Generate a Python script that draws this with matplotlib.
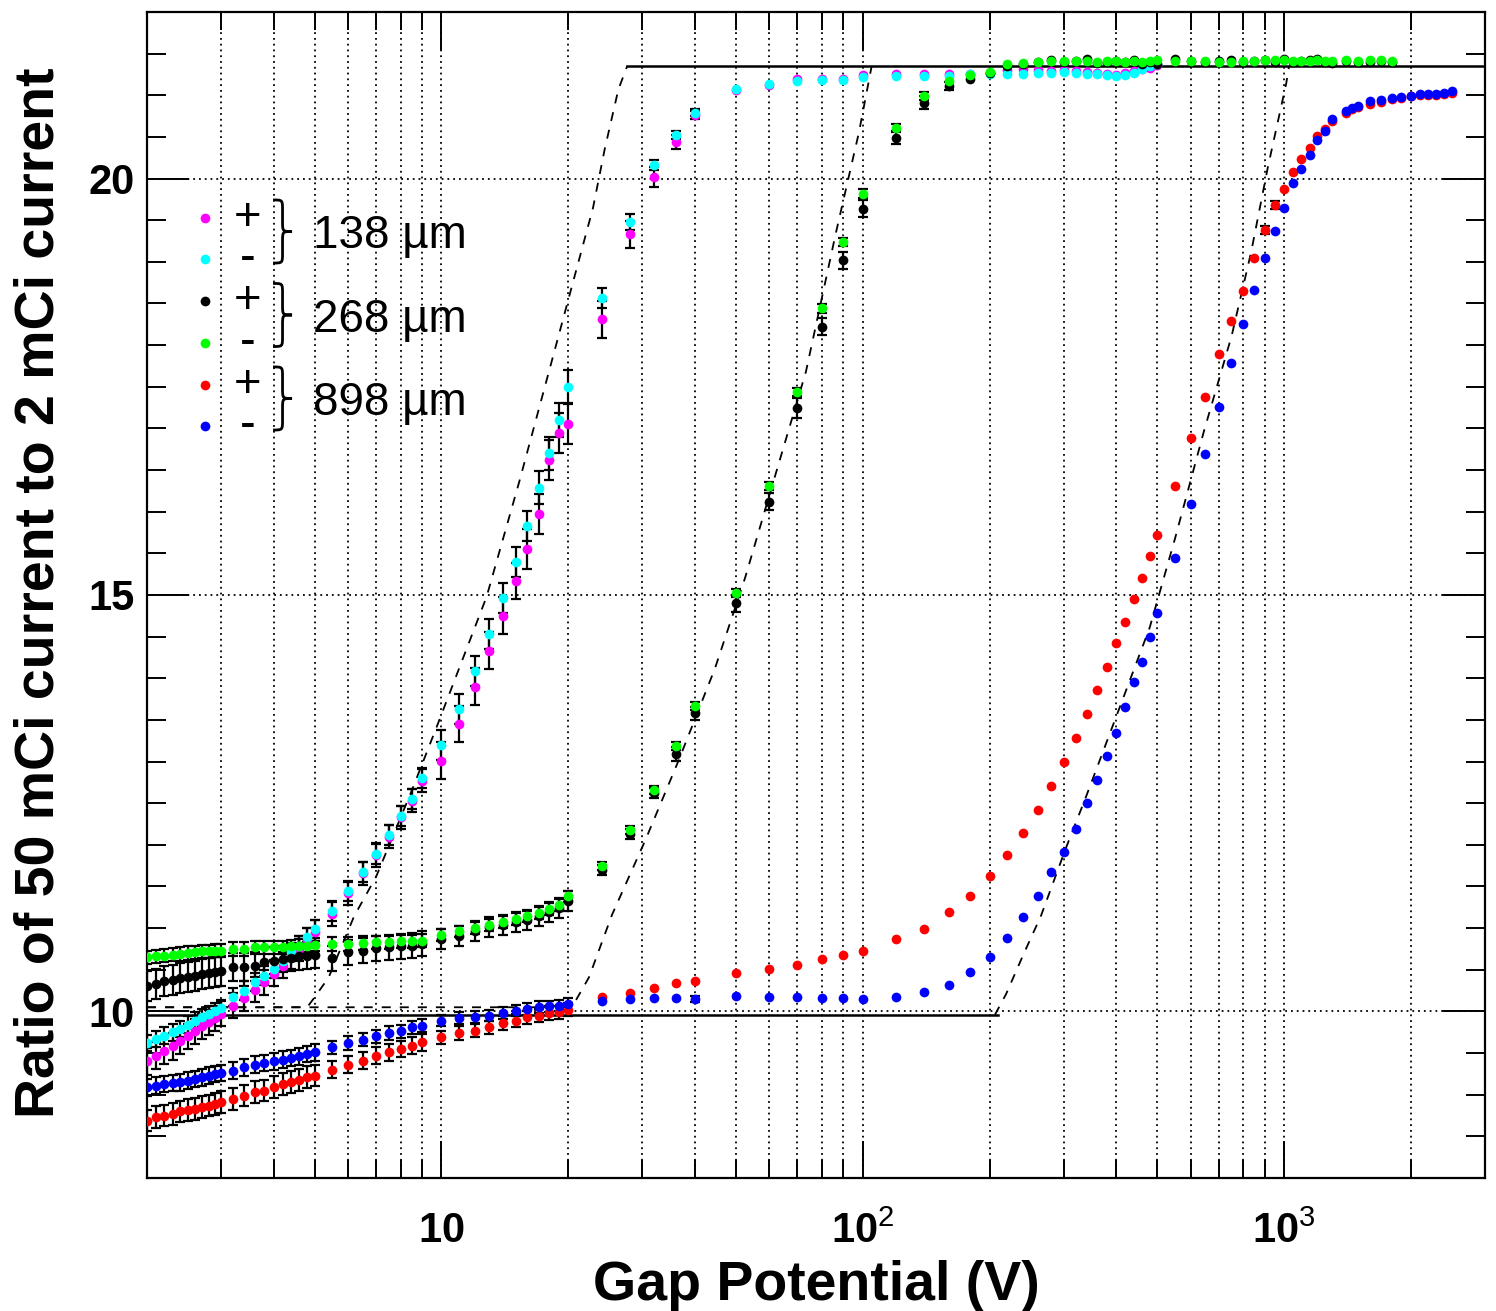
import matplotlib
matplotlib.use('Agg')
import matplotlib.pyplot as plt
import numpy as np
from matplotlib.path import Path
from matplotlib.patches import PathPatch
from matplotlib.ticker import FixedLocator, MultipleLocator, NullFormatter

plt.rcParams['font.family'] = ['Liberation Sans', 'DejaVu Sans']
plt.rcParams['mathtext.fontset'] = 'custom'
plt.rcParams['mathtext.rm'] = 'Liberation Sans'
plt.rcParams['mathtext.bf'] = 'Liberation Sans:bold'

# ---- gap potentials (V) ----
v_low = [2.0, 2.1, 2.2, 2.3, 2.4, 2.5, 2.6, 2.7, 2.8, 2.9, 3.0,
         3.2, 3.4, 3.6, 3.8, 4.0, 4.2, 4.4, 4.6, 4.8, 5.0]
v_mid = [5.5, 6, 6.5, 7, 7.5, 8, 8.5, 9,
         10, 11, 12, 13, 14, 15, 16, 17, 18, 19, 20]
v_high = [24, 28, 32, 36, 40, 50, 60, 70, 80, 90, 100]
v_kv = [120, 140, 160, 180, 200, 220, 240, 260, 280, 300,
        320, 340, 360, 380, 400, 420, 440, 460, 480, 500]
v_top = [550, 600, 650, 700, 750, 800, 850, 900, 950, 1000]
v_end_268 = [1050, 1100, 1150, 1200, 1250, 1300, 1400, 1500, 1600, 1700, 1800]
v_end_898 = [1050, 1100, 1150, 1200, 1250, 1300, 1400, 1450, 1500, 1600,
             1700, 1800, 1900, 2000, 2100, 2200, 2300, 2400, 2500]

volts_138 = v_low + v_mid + v_high + v_kv
volts_268 = volts_138 + v_top + v_end_268
volts_898 = volts_138 + v_top + v_end_898

# ---- ratio of 50 mCi current to 2 mCi current ----
r138_plus = [9.40, 9.47, 9.53, 9.58, 9.64, 9.70, 9.76, 9.82, 9.87, 9.92, 9.97,
             10.07, 10.16, 10.26, 10.35, 10.45, 10.55, 10.66, 10.75, 10.85, 10.95,
             11.17, 11.42, 11.66, 11.88, 12.10, 12.33, 12.53, 12.77,
             13.01, 13.45, 13.90, 14.33, 14.75, 15.17, 15.55, 15.97, 16.62, 16.95, 17.05,
             18.31, 19.33, 20.02, 20.44, 20.76, 21.06, 21.12, 21.19, 21.20, 21.19, 21.24,
             21.25, 21.25, 21.25, 21.26, 21.27, 21.30, 21.31, 21.30, 21.29, 21.30,
             21.29, 21.28, 21.27, 21.26, 21.24, 21.27, 21.29, 21.31, 21.33, 21.36]
r138_minus = [9.62, 9.67, 9.71, 9.75, 9.79, 9.84, 9.89, 9.93, 9.97, 10.00, 10.04,
              10.17, 10.25, 10.35, 10.43, 10.51, 10.60, 10.71, 10.79, 10.89, 10.99,
              11.20, 11.45, 11.68, 11.89, 12.12, 12.35, 12.55, 12.80,
              13.20, 13.63, 14.09, 14.53, 14.96, 15.40, 15.83, 16.29, 16.70, 17.10, 17.50,
              18.57, 19.48, 20.16, 20.52, 20.79, 21.07, 21.13, 21.17, 21.18, 21.18, 21.22,
              21.23, 21.23, 21.23, 21.25, 21.26, 21.25, 21.26, 21.27, 21.27, 21.28,
              21.27, 21.26, 21.25, 21.24, 21.23, 21.24, 21.27, 21.32, 21.35, 21.37]
r268_plus = [10.30, 10.33, 10.36, 10.38, 10.40, 10.41, 10.43, 10.45, 10.46, 10.47, 10.48,
             10.53, 10.53, 10.54, 10.59, 10.61, 10.63, 10.64, 10.66, 10.67, 10.68,
             10.64, 10.71, 10.73, 10.76, 10.77, 10.78, 10.79, 10.81,
             10.87, 10.91, 10.96, 11.01, 11.04, 11.07, 11.10, 11.14, 11.19, 11.24, 11.33,
             11.70, 12.13, 12.62, 13.09, 13.58, 14.90, 16.12, 17.24, 18.22, 19.02, 19.64,
             20.49, 20.91, 21.11, 21.19, 21.27, 21.35, 21.38, 21.40, 21.42, 21.40,
             21.41, 21.43, 21.39, 21.40, 21.41, 21.40, 21.42, 21.38, 21.40, 21.38,
             21.43, 21.41, 21.40, 21.41, 21.42, 21.40, 21.41, 21.42, 21.40, 21.43,
             21.40, 21.41, 21.42, 21.44, 21.40, 21.39, 21.41, 21.40, 21.40, 21.41, 21.40]
r268_minus = [10.65, 10.66, 10.67, 10.68, 10.69, 10.70, 10.71, 10.72, 10.72, 10.73, 10.73,
              10.75, 10.75, 10.77, 10.77, 10.77, 10.77, 10.78, 10.79, 10.79, 10.80,
              10.81, 10.81, 10.82, 10.83, 10.83, 10.84, 10.84, 10.85,
              10.92, 10.96, 11.00, 11.04, 11.07, 11.11, 11.14, 11.18, 11.23, 11.28, 11.38,
              11.75, 12.18, 12.66, 13.19, 13.67, 15.02, 16.31, 17.44, 18.44, 19.24, 19.82,
              20.61, 20.99, 21.17, 21.24, 21.28, 21.37, 21.39, 21.40, 21.41, 21.41,
              21.41, 21.41, 21.40, 21.41, 21.41, 21.40, 21.41, 21.40, 21.41, 21.42,
              21.41, 21.41, 21.41, 21.40, 21.40, 21.41, 21.41, 21.42, 21.42, 21.42,
              21.41, 21.41, 21.41, 21.42, 21.41, 21.41, 21.42, 21.41, 21.42, 21.42, 21.41]
r898_plus = [8.69, 8.73, 8.75, 8.77, 8.80, 8.82, 8.83, 8.85, 8.87, 8.89, 8.91,
             8.95, 8.99, 9.03, 9.05, 9.09, 9.13, 9.15, 9.18, 9.21, 9.23,
             9.30, 9.36, 9.41, 9.47, 9.51, 9.55, 9.59, 9.63,
             9.69, 9.74, 9.77, 9.81, 9.86, 9.89, 9.93, 9.95, 9.98, 9.99, 10.02,
             10.17, 10.22, 10.28, 10.34, 10.37, 10.46, 10.51, 10.56, 10.63, 10.68, 10.73,
             10.87, 10.99, 11.19, 11.39, 11.63, 11.88, 12.14, 12.42, 12.71, 12.99,
             13.28, 13.57, 13.86, 14.14, 14.42, 14.68, 14.95, 15.20, 15.47, 15.72,
             16.31, 16.88, 17.38, 17.89, 18.29, 18.65, 19.05, 19.38, 19.68, 19.88,
             20.08, 20.23, 20.37, 20.51, 20.59, 20.69, 20.79, 20.83, 20.86, 20.90,
             20.92, 20.95, 20.97, 20.99, 21.00, 21.00, 21.00, 21.01, 21.03]
r898_minus = [9.09, 9.11, 9.13, 9.14, 9.15, 9.17, 9.19, 9.21, 9.23, 9.25, 9.26,
              9.29, 9.33, 9.36, 9.38, 9.40, 9.42, 9.44, 9.46, 9.49, 9.51,
              9.57, 9.62, 9.66, 9.70, 9.74, 9.76, 9.81, 9.83,
              9.89, 9.92, 9.93, 9.95, 9.98, 10.01, 10.03, 10.05, 10.06, 10.07, 10.09,
              10.13, 10.15, 10.16, 10.16, 10.15, 10.19, 10.17, 10.17, 10.16, 10.16, 10.15,
              10.17, 10.23, 10.32, 10.47, 10.65, 10.88, 11.13, 11.39, 11.67, 11.92,
              12.19, 12.50, 12.78, 13.07, 13.34, 13.65, 13.95, 14.20, 14.49, 14.78,
              15.44, 16.09, 16.69, 17.26, 17.78, 18.25, 18.66, 19.05, 19.37, 19.65,
              19.95, 20.11, 20.28, 20.46, 20.57, 20.71, 20.81, 20.85, 20.87, 20.93,
              20.94, 20.97, 20.98, 20.99, 21.02, 21.02, 21.02, 21.03, 21.05]

# ---- error bars (0 = hidden behind marker) ----
e138_plus = ([0.16, 0.16, 0.16, 0.16, 0.15, 0.15, 0.15, 0.15, 0.15, 0.15, 0.15,
              0.15, 0.15, 0.15, 0.15, 0.15, 0.15, 0.15, 0.15, 0.15, 0.15,
              0.14, 0.14, 0.14, 0.14, 0.14, 0.14, 0.14, 0.14,
              0.22, 0.22, 0.22, 0.22, 0.22, 0.22, 0.24, 0.24, 0.24, 0.24, 0.24,
              0.22, 0.16, 0.12, 0.08, 0.05] + [0.0] * 26)
e138_minus = ([0.10, 0.10, 0.10, 0.10, 0.10, 0.10, 0.10, 0.10, 0.10, 0.10, 0.10,
               0.11, 0.11, 0.11, 0.11, 0.11, 0.11, 0.11, 0.11, 0.11, 0.11,
               0.12, 0.12, 0.12, 0.12, 0.12, 0.12, 0.12, 0.12,
               0.18, 0.18, 0.18, 0.18, 0.18, 0.18, 0.18, 0.20, 0.20, 0.20, 0.20,
               0.12, 0.10, 0.06, 0.05, 0.04] + [0.0] * 26)
e268_plus = ([0.18, 0.18, 0.18, 0.18, 0.18, 0.18, 0.18, 0.18, 0.18, 0.18, 0.18,
              0.17, 0.17, 0.17, 0.17, 0.16, 0.16, 0.16, 0.16, 0.16, 0.16,
              0.15, 0.15, 0.15, 0.15, 0.15, 0.15, 0.15, 0.15,
              0.12, 0.12, 0.12, 0.12, 0.12, 0.12, 0.12, 0.12, 0.12, 0.12, 0.12,
              0.06, 0.06, 0.06, 0.08, 0.08, 0.10, 0.10, 0.12, 0.10, 0.10, 0.10,
              0.08, 0.08, 0.05] + [0.0] * 38)
e268_minus = ([0.08] * 21 + [0.08] * 8 + [0.07] * 11 +
              [0.05, 0.05, 0.05, 0.05, 0.05, 0.05, 0.05, 0.05, 0.05, 0.05, 0.05,
               0.05, 0.05] + [0.0] * 39)
e898_plus = ([0.13] * 21 + [0.10] * 8 + [0.08] * 11 + [0.0] * 31 +
             [0.0, 0.0, 0.0, 0.0, 0.0, 0.0, 0.0, 0.05, 0.05, 0.0] + [0.0] * 19)
e898_minus = ([0.10] * 21 + [0.08] * 8 + [0.07] * 11 +
              [0.0, 0.0, 0.0, 0.0, 0.04] + [0.0] * 55)

# ---- model curves (dashed) and plateau levels ----
model_138_v = [2.0, 4.8, 5.0, 5.4, 6.2, 7.0, 8.5, 9.8, 12.8, 15.3, 18.3, 22.9, 24.4, 26.3, 27.6]
model_138_r = [10.05, 10.05, 10.17, 10.41, 11.14, 11.62, 12.65, 13.45, 14.98, 16.36,
               17.82, 19.65, 20.35, 21.07, 21.35]
model_268_v = [2.0, 20.4, 22.4, 25.4, 30.5, 36.6, 44.6, 52.6, 62.1, 73.3, 86.2, 98.0, 105.0]
model_268_r = [10.05, 10.05, 10.41, 11.16, 12.06, 13.02, 14.12, 15.21, 16.45, 17.68,
               19.33, 20.56, 21.35]
model_898_v = [206, 219, 240, 265, 303, 339, 408, 480, 552, 645, 751, 835, 915, 1012, 1028]
model_898_r = [9.96, 10.21, 10.67, 11.15, 11.95, 12.58, 13.66, 14.61, 15.69, 16.96,
               18.11, 19.11, 20.13, 21.14, 21.35]
low_level_v = [2.0, 210]
low_level = 9.96
high_level_v = [27.6, 3000]
high_level = 21.35

series = [
    (volts_138, r138_plus, e138_plus, '#ff00ff'),
    (volts_138, r138_minus, e138_minus, '#00ffff'),
    (volts_268, r268_plus, e268_plus, 'black'),
    (volts_268, r268_minus, e268_minus, '#00ff00'),
    (volts_898, r898_plus, e898_plus, '#ff0000'),
    (volts_898, r898_minus, e898_minus, '#0000ff'),
]

fig = plt.figure(figsize=(14.96, 13.11), dpi=100)
ax = fig.add_axes([0.09826, 0.10145, 0.89439, 0.88940])
ax.set_xscale('log')
ax.set_xlim(2, 3000)
ax.set_ylim(8, 22)

# model lines
ax.plot(low_level_v, [low_level, low_level], color='black', lw=1.8, zorder=2)
ax.plot(high_level_v, [high_level, high_level], color='black', lw=1.8, zorder=2)
for mv, mr in [(model_138_v, model_138_r), (model_268_v, model_268_r),
               (model_898_v, model_898_r)]:
    ax.plot(mv, mr, color='black', lw=1.3, dashes=(5, 5), zorder=2)

# data
for v, r, e, c in series:
    v = np.asarray(v, float)
    r = np.asarray(r, float)
    e = np.asarray(e, float)
    m = e > 0
    ax.errorbar(v[m], r[m], yerr=e[m], fmt='none', ecolor='black',
                elinewidth=1.6, capsize=3.5, capthick=1.6, zorder=3)
    ax.plot(v, r, 'o', color=c, ms=7, mew=0, zorder=4)

# axes styling
ax.set_xticks([10, 100, 1000],
              labels=[r'$\mathbf{10}$', r'$\mathbf{10}^{2}$', r'$\mathbf{10}^{3}$'],
              fontsize=30)
minor_x = [m * 10.0 ** d for d in range(0, 4) for m in range(2, 10)]
ax.xaxis.set_minor_locator(FixedLocator(minor_x))
ax.xaxis.set_minor_formatter(NullFormatter())
ax.set_yticks([10, 15, 20], labels=['10', '15', '20'], fontsize=30, fontweight='bold')
ax.yaxis.set_minor_locator(MultipleLocator(0.5))

ax.tick_params(which='both', direction='in', top=True, right=True, width=1.4)
ax.tick_params(axis='x', which='major', length=27, pad=24)
ax.tick_params(axis='x', which='minor', length=13)
ax.tick_params(axis='y', which='major', length=30, pad=9)
ax.tick_params(axis='y', which='minor', length=14)
for s in ax.spines.values():
    s.set_linewidth(1.6)

ax.grid(True, which='both', axis='x', color='black', lw=1.3, linestyle=(0, (1, 2.2)))
ax.grid(True, which='major', axis='y', color='black', lw=1.3, linestyle=(0, (1, 2.2)))
ax.set_axisbelow(True)

ax.set_xlabel('Gap Potential (V)', fontsize=40, fontweight='bold', labelpad=6)
fig.text(40 / 1496, 1 - 592.5 / 1311, 'Ratio of 50 mCi current to 2 mCi current',
         rotation=90, ha='center', va='center', fontsize=40, fontweight='bold')

# hand-made legend
legend_colors = [c for _, _, _, c in series]
legend_signs = ['+', '-', '+', '-', '+', '-']
legend_gaps = ['138 µm', '268 µm', '898 µm']
row0, row_step = 0.8236, 0.0358
for i, (c, sgn) in enumerate(zip(legend_colors, legend_signs)):
    yy = row0 - i * row_step
    ax.plot([0.043], [yy], 'o', color=c, ms=7, mew=0, transform=ax.transAxes, zorder=5)
    ax.text(0.0755, yy, sgn, transform=ax.transAxes, ha='center', va='center',
            fontsize=34, zorder=5)


def right_brace(x0, y_bot, y_top, w):
    ym = 0.5 * (y_bot + y_top)
    xm = x0 + w / 2
    q = 0.16 * (y_top - y_bot)
    verts = [(x0, y_top), (xm, y_top), (xm, y_top), (xm, y_top - q),
             (xm, ym + q),
             (xm, ym), (xm, ym), (x0 + w, ym),
             (xm, ym), (xm, ym), (xm, ym - q),
             (xm, y_bot + q),
             (xm, y_bot), (xm, y_bot), (x0, y_bot)]
    codes = [Path.MOVETO, Path.CURVE4, Path.CURVE4, Path.CURVE4,
             Path.LINETO,
             Path.CURVE4, Path.CURVE4, Path.CURVE4,
             Path.CURVE4, Path.CURVE4, Path.CURVE4,
             Path.LINETO,
             Path.CURVE4, Path.CURVE4, Path.CURVE4]
    return PathPatch(Path(verts, codes), fill=False, lw=2.0, edgecolor='black',
                     transform=ax.transAxes, zorder=5)


for k, gap in enumerate(legend_gaps):
    top = 0.8388 - k * 2 * row_step
    bot = top - 0.0541
    ax.add_patch(right_brace(0.0942, bot, top, 0.0142))
    ax.text(0.1241, row0 - (2 * k + 0.5) * row_step + 0.002, gap, transform=ax.transAxes,
            ha='left', va='center', fontsize=33, zorder=5)

fig.savefig('out.png', dpi=100)
